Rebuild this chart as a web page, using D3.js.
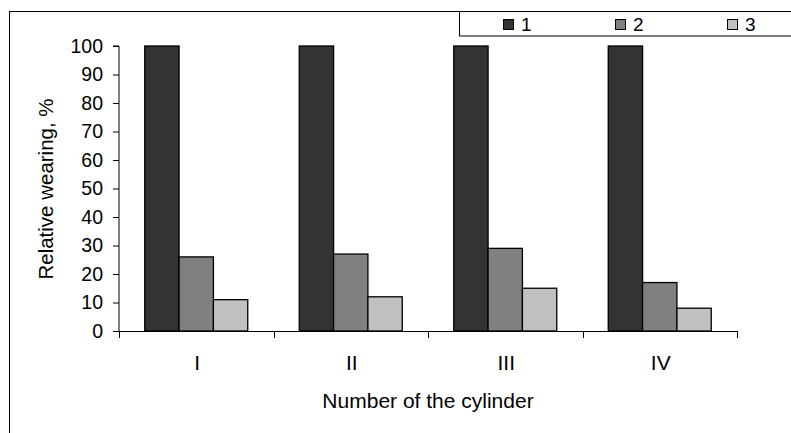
<!DOCTYPE html>
<html><head><meta charset="utf-8">
<script src="https://cdn.jsdelivr.net/npm/d3@7/dist/d3.min.js"></script>
<style>
body{margin:0;background:#fff;}
svg{display:block;font-family:"Liberation Sans",Arial,sans-serif;}
</style></head>
<body><svg id="c" width="791" height="433"></svg>
<script>
const categories = ["I","II","III","IV"];
const seriesNames = ["1","2","3"];
const series1 = [100,100,100,100];
const series2 = [26,27,29,17];
const series3 = [11,12,15,8];
const yTicks = [0,10,20,30,40,50,60,70,80,90,100];
const colors = ["#333333","#808080","#c0c0c0"];
const yTitle = "Relative wearing, %";
const xTitle = "Number of the cylinder";

const allSeries = [series1, series2, series3];
const svg = d3.select("#c");

// outer frame
svg.append("rect").attr("x",9.5).attr("y",11.5).attr("width",900).attr("height",600)
  .attr("fill","none").attr("stroke","#000").attr("stroke-width",1);

const pL=119, pR=737, pT=46, pB=331;
const x = d3.scaleBand().domain(categories).range([pL,pR]).paddingInner(0).paddingOuter(0);
const xs = d3.scaleBand().domain(seriesNames).range([0,x.bandwidth()]).paddingInner(0).paddingOuter(0.75);
const y = d3.scaleLinear().domain([0,100]).range([pB,pT]);

// bars
const g = svg.append("g");
categories.forEach((c,i)=>{
  allSeries.forEach((s,j)=>{
    g.append("rect")
      .attr("x", x(c)+xs(seriesNames[j]))
      .attr("y", y(s[i]))
      .attr("width", xs.bandwidth())
      .attr("height", y(0)-y(s[i]))
      .attr("fill", colors[j]).attr("stroke","#000").attr("stroke-width",1.3);
  });
});

// y axis
const yAxis = d3.axisLeft(y).tickValues(yTicks).tickSize(6).tickPadding(10).tickFormat(d3.format("d"));
const ya = svg.append("g").attr("transform",`translate(${pL},0)`).call(yAxis);
ya.select(".domain").attr("d",`M-6,${pT}H0V${pB}`).attr("stroke","#000");
ya.selectAll("text").attr("font-size",19.5).attr("fill","#000").attr("font-family","Liberation Sans, Arial, sans-serif");
ya.selectAll("line").attr("stroke","#000");

// x axis
const xa = svg.append("g").attr("transform",`translate(0,${pB})`);
xa.append("line").attr("x1",pL).attr("x2",pR).attr("y1",0.5).attr("y2",0.5).attr("stroke","#000");
const edges = categories.map(c=>x(c)).concat([x(categories[categories.length-1])+x.bandwidth()]);
xa.selectAll("line.tk").data(edges).enter().append("line").attr("class","tk")
  .attr("x1",d=>Math.round(d)+0.5).attr("x2",d=>Math.round(d)+0.5).attr("y1",0).attr("y2",7).attr("stroke","#000");
xa.selectAll("text.cat").data(categories).enter().append("text").attr("class","cat")
  .attr("x",d=>x(d)+x.bandwidth()/2+1).attr("y",38.5).attr("text-anchor","middle")
  .attr("font-size",21).attr("fill","#000").text(d=>d);

// titles
svg.append("text").attr("x",428).attr("y",408).attr("text-anchor","middle").attr("font-size",21).text(xTitle);
svg.append("text").attr("transform","translate(53,189) rotate(-90)").attr("text-anchor","middle")
  .attr("font-size",20.5).attr("xml:space","preserve").text(yTitle);

// legend
svg.append("rect").attr("x",459.5).attr("y",11.5).attr("width",400).attr("height",24.5)
  .attr("fill","#fff").attr("stroke","#000").attr("stroke-width",1);
const lx = d3.scalePoint().domain(seriesNames).range([503,727]);
seriesNames.forEach((n,j)=>{
  svg.append("rect").attr("x",lx(n)+0.5).attr("y",19.5).attr("width",10).attr("height",10)
    .attr("fill",colors[j]).attr("stroke","#000").attr("stroke-width",1);
  svg.append("text").attr("x",lx(n)+18).attr("y",31).attr("font-size",19).text(n);
});
</script></body></html>
